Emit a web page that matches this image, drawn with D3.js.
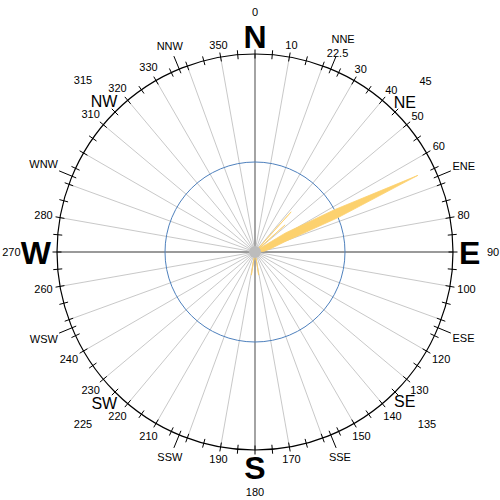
<!DOCTYPE html>
<html>
<head>
<meta charset="utf-8">
<script src="https://cdn.jsdelivr.net/npm/d3@7"></script>
<style>
  body { margin: 0; background: #fff; }
  text { font-family: "Liberation Sans", Arial, sans-serif; fill: #000; }
</style>
</head>
<body>
<div id="chart"></div>
<script>
// compass frame
var cardinalNames = ["N", "E", "S", "W"];
var cardinalDeg = [0, 90, 180, 270];
var interNames = ["NE", "SE", "SW", "NW"];
var interDeg = [45, 135, 225, 315];
var minorNames = ["NNE", "ENE", "ESE", "SSE", "SSW", "WSW", "WNW", "NNW"];
var minorDeg = [22.5, 67.5, 112.5, 157.5, 202.5, 247.5, 292.5, 337.5];
var degreeLabels = [10, 30, 40, 50, 60, 80, 100, 120, 130, 140, 150, 170,
                    190, 210, 220, 230, 240, 260, 280, 310, 320, 330, 350];
var gridDeg = d3.range(0, 360, 10);
var tickDeg = d3.range(0, 360, 5);

// petal (direction in degrees, value)
var petalDir = [36, 42, 45, 45.5, 48, 50.5, 52, 58, 62, 64.8, 67.5, 71, 78, 86, 92,
                168, 171, 174, 186, 189, 192];
var petalVal = [0, 6, 0, 0, 4.5, 0, 0.6, 4, 10, 20, 10, 3.5, 1.8, 1, 0,
                0, 2.6, 0, 0, 2.6, 0];
var refLevel = 10;
var maxValue = 22;

var width = 500, height = 500;
var cx = 255, cy = 252, R = 198;

var svg = d3.select("#chart").append("svg")
    .attr("width", width)
    .attr("height", height);

var g = svg.append("g").attr("transform", "translate(" + cx + "," + cy + ")");

var ang = d3.scaleLinear().domain([0, 360]).range([0, 2 * Math.PI]);
var rad = d3.scaleLinear().domain([0, maxValue]).range([0, R]);

function pt(deg, r) {
    var a = ang(deg);
    return [r * Math.sin(a), -r * Math.cos(a)];
}

// grid spokes
g.append("g").selectAll("line")
    .data(gridDeg)
    .enter().append("line")
    .attr("x1", 0).attr("y1", 0)
    .attr("x2", function (d) { return pt(d, R)[0]; })
    .attr("y2", function (d) { return pt(d, R)[1]; })
    .style("stroke", function (d) { return d % 90 === 0 ? "#9a9a9a" : "#bababa"; })
    .style("stroke-width", function (d) { return d % 90 === 0 ? 1.8 : 0.8; });

// reference circle
g.append("circle")
    .attr("r", rad(refLevel))
    .style("fill", "none")
    .style("stroke", "#4f81bd")
    .style("stroke-width", 1);

// petal
var petal = d3.lineRadial()
    .angle(function (d) { return ang(d[0]); })
    .radius(function (d) { return rad(d[1]); })
    .curve(d3.curveLinearClosed);

g.append("path")
    .datum(d3.zip(petalDir, petalVal))
    .attr("d", petal)
    .style("fill", "#fcd16e")
    .style("stroke", "#fcd16e")
    .style("stroke-width", 0.8)
    .style("stroke-linejoin", "round");

// center dot
g.append("circle").attr("r", 6).style("fill", "#bcbcbc");

// outer ring
g.append("circle")
    .attr("r", R)
    .style("fill", "none")
    .style("stroke", "#000")
    .style("stroke-width", 1.2);

// ticks
g.append("g").selectAll("line")
    .data(tickDeg.concat(minorDeg))
    .enter().append("line")
    .attr("x1", function (d) { return pt(d, R - 4.5)[0]; })
    .attr("y1", function (d) { return pt(d, R - 4.5)[1]; })
    .attr("x2", function (d) { var o = d % 5 ? 14 : 4.5; return pt(d, R + o)[0]; })
    .attr("y2", function (d) { var o = d % 5 ? 14 : 4.5; return pt(d, R + o)[1]; })
    .style("stroke", "#000")
    .style("stroke-width", 1);

// label placed outside r0 with its box edge touching r0
function label(txt, deg, r0, fs, weight) {
    var t = g.append("text")
        .text(txt)
        .attr("text-anchor", "middle")
        .style("font-size", fs + "px")
        .style("font-weight", weight || "normal");
    var w = t.node().getComputedTextLength();
    var h = 0.72 * fs;
    var a = ang(deg);
    var r = r0 + Math.abs(Math.sin(a)) * w / 2 + Math.abs(Math.cos(a)) * h / 2;
    var p = pt(deg, r);
    t.attr("x", p[0]).attr("y", p[1] + h / 2);
}

degreeLabels.forEach(function (d) { label(String(d), d, 205, 11); });
minorNames.forEach(function (n, i) {
    label(n, minorDeg[i], i === 0 ? 222 : 214, 11);
});
label("22.5", 22.5, 208, 11);

// big letters, and their degree numbers just beyond them
var cardNumR = {0: 236, 90: 232, 180: 236, 270: 234.5};
cardinalNames.forEach(function (n, i) {
    label(n, cardinalDeg[i], 204, 32, "bold");
    label(String(cardinalDeg[i]), cardinalDeg[i], cardNumR[cardinalDeg[i]], 11);
});
interNames.forEach(function (n, i) {
    label(n, interDeg[i], 200, 16);
    label(String(interDeg[i]), interDeg[i], 234, 11);
});
</script>
</body>
</html>
